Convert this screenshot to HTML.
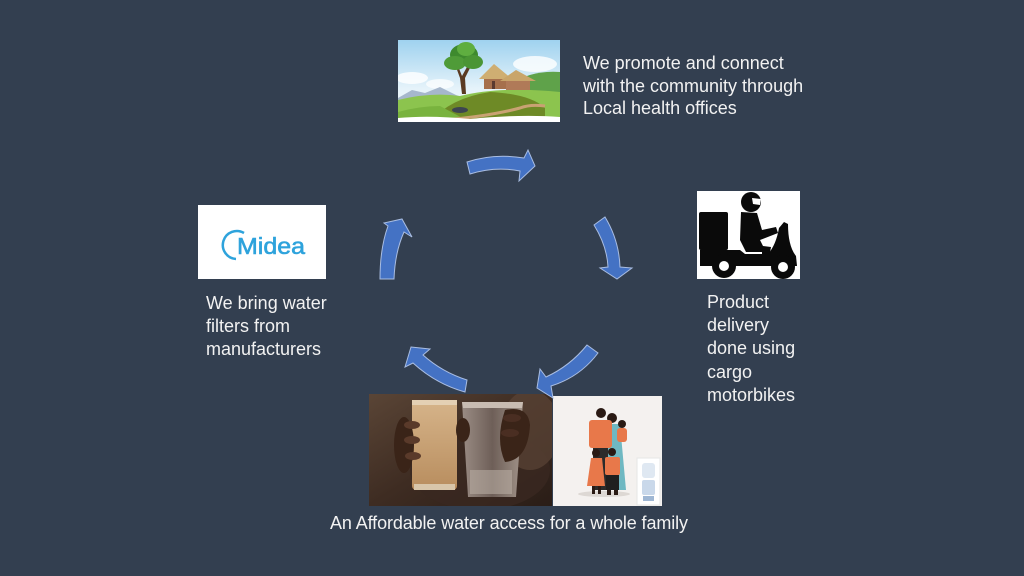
<!DOCTYPE html>
<html><head><meta charset="utf-8"><style>
html,body{margin:0;padding:0;background:#333F50;}
svg{display:block;}
text{font-family:"Liberation Sans",sans-serif;fill:#f2f2f2;font-size:18px;}
</style></head><body>
<svg width="1024" height="576" viewBox="0 0 1024 576" xmlns="http://www.w3.org/2000/svg">
<defs>
<linearGradient id="sky" x1="0" y1="0" x2="0" y2="1">
<stop offset="0" stop-color="#9fd2ef"/><stop offset="0.6" stop-color="#e6f3fa"/><stop offset="1" stop-color="#f4f9f6"/>
</linearGradient>
<linearGradient id="photo" x1="0" y1="0" x2="1" y2="1">
<stop offset="0" stop-color="#5a4536"/><stop offset="0.5" stop-color="#3e2c22"/><stop offset="1" stop-color="#2a1d17"/>
</linearGradient>
<linearGradient id="mud" x1="0" y1="0" x2="0" y2="1">
<stop offset="0" stop-color="#d6b48a"/><stop offset="1" stop-color="#b88d5e"/>
</linearGradient>
<linearGradient id="clear" x1="0" y1="0" x2="1" y2="0">
<stop offset="0" stop-color="#9a8c84"/><stop offset="0.5" stop-color="#6e5f58"/><stop offset="1" stop-color="#a2948a"/>
</linearGradient>
<clipPath id="cv"><rect x="398" y="40" width="162" height="82"/></clipPath>
<clipPath id="cp"><rect x="369" y="394" width="183" height="112"/></clipPath>
</defs>

<rect width="1024" height="576" fill="#333F50"/>

<!-- Village -->
<g clip-path="url(#cv)">
<rect x="398" y="40" width="162" height="82" fill="url(#sky)"/>
<ellipse cx="535" cy="64" rx="22" ry="8" fill="#fff" opacity="0.8"/>
<ellipse cx="412" cy="78" rx="16" ry="6" fill="#fff" opacity="0.8"/>
<ellipse cx="440" cy="84" rx="14" ry="5" fill="#fff" opacity="0.7"/>
<polygon points="398,98 412,90 425,93 440,87 456,95 470,100 398,102" fill="#a6b7cc"/>
<path d="M510,85 Q530,70 560,72 L560,100 L505,100 Z" fill="#5fa24a"/>
<path d="M398,100 Q430,92 460,96 Q500,86 560,92 L560,122 L398,122 Z" fill="#8cc44e"/>
<path d="M430,122 Q450,98 490,92 Q530,94 545,108 L545,122 Z" fill="#6e8a26"/>
<path d="M398,112 Q420,106 440,106 L470,122 L398,122 Z" fill="#79b33e"/>
<path d="M445,120 Q490,116 520,108 Q530,104 545,106" stroke="#c9a273" stroke-width="3" fill="none"/>
<path d="M398,118 Q430,115 470,119 Q520,114 560,117 L560,122 L398,122 Z" fill="#ffffff"/>
<ellipse cx="460" cy="110" rx="8" ry="3" fill="#3d4550"/>
<path d="M462,94 L466,94 L465,78 L470,68 L467,67 L462,76 L458,66 L456,67 L460,78 Z" fill="#5a3a22"/>
<ellipse cx="464" cy="55" rx="14" ry="11" fill="#3e8a2e"/>
<ellipse cx="455" cy="63" rx="11" ry="7" fill="#4f9b38"/>
<ellipse cx="473" cy="62" rx="10" ry="7" fill="#4a9534"/>
<ellipse cx="466" cy="49" rx="9" ry="7" fill="#5fae40"/>
<rect x="484" y="77" width="22" height="12" fill="#a6704c"/>
<polygon points="479,79 494,64 512,79" fill="#cfae72"/>
<rect x="506" y="80" width="24" height="10" fill="#b07a58"/>
<polygon points="500,81 516,70 536,81" fill="#c9a56a"/>
<rect x="492" y="81" width="3" height="8" fill="#5a3a30"/>
</g>

<!-- Midea -->
<rect x="198" y="205" width="128" height="74" fill="#ffffff"/>
<path d="M244,233 A14 14 0 1 0 236,259" stroke="#2ea3dc" stroke-width="2.5" fill="none"/>
<text x="237" y="254" style="font-size:23px;fill:#2ea3dc;stroke:#2ea3dc;stroke-width:0.6" textLength="68" lengthAdjust="spacingAndGlyphs">Midea</text>

<!-- Motorbike -->
<rect x="697" y="191" width="103" height="88" fill="#ffffff"/>
<g fill="#0a0a0a">
<rect x="699" y="212" width="29" height="38" rx="2"/>
<circle cx="751" cy="202" r="10"/>
<path d="M741,212 L757,213 L762,230 L776,227 L778,233 L760,240 L763,246 L771,247 L768,263 L762,263 L762,252 L746,252 L740,240 Z"/>
<path d="M700,250 L740,250 L745,254 L768,254 Q776,245 779,228 L784,222 L788,224 Q788,246 796,256 L797,266 L700,266 Z"/>
<circle cx="724" cy="266" r="12"/>
<circle cx="783" cy="267" r="12"/>
</g>
<path d="M752,198 L761,199 L760,205 L753,204 Z" fill="#ffffff"/>
<circle cx="724" cy="266" r="5" fill="#ffffff"/>
<circle cx="783" cy="267" r="5" fill="#ffffff"/>

<!-- Water photo -->
<g clip-path="url(#cp)">
<rect x="369" y="394" width="183" height="112" fill="url(#photo)"/>
<ellipse cx="480" cy="470" rx="70" ry="40" fill="#3a2820" opacity="0.8"/>
<ellipse cx="530" cy="430" rx="30" ry="40" fill="#5b4436" opacity="0.7"/>
<rect x="412" y="400" width="45" height="90" rx="4" fill="url(#mud)"/>
<rect x="412" y="400" width="45" height="5" fill="#e4d0b4"/>
<rect x="414" y="484" width="41" height="6" fill="#d8c6aa"/>
<polygon points="462,402 523,402 516,497 468,497" fill="url(#clear)"/>
<polygon points="462,402 523,402 522,408 463,408" fill="#c8bcb2"/>
<rect x="470" y="470" width="42" height="24" fill="#b8aca2" opacity="0.6"/>
<ellipse cx="404" cy="445" rx="10" ry="28" fill="#3a2418"/>
<ellipse cx="412" cy="425" rx="8" ry="4" fill="#5a3a2a"/>
<ellipse cx="412" cy="440" rx="8" ry="4" fill="#5a3a2a"/>
<ellipse cx="413" cy="456" rx="8" ry="4" fill="#5a3a2a"/>
<ellipse cx="463" cy="430" rx="7" ry="12" fill="#3a2418"/>
<path d="M505,410 Q528,405 530,425 Q528,460 505,462 Q495,440 505,410 Z" fill="#3a2418"/>
<ellipse cx="512" cy="418" rx="9" ry="4" fill="#4a2e22"/>
<ellipse cx="510" cy="433" rx="9" ry="4" fill="#4a2e22"/>
</g>

<!-- Family -->
<rect x="553" y="396" width="109" height="110" fill="#f4f1ef"/>
<ellipse cx="604" cy="494" rx="26" ry="3" fill="#ddd8d4"/>
<path d="M604,424 L620,424 L626,490 L605,490 Z" fill="#6fb8c2"/>
<circle cx="612" cy="418" r="5" fill="#2a1a14"/>
<circle cx="601" cy="413" r="5" fill="#2a1a14"/>
<rect x="589" y="420" width="23" height="28" rx="3" fill="#e8784a"/>
<rect x="593" y="448" width="15" height="42" fill="#2b2b2b"/>
<circle cx="622" cy="424" r="4" fill="#2a1a14"/>
<rect x="617" y="428" width="10" height="14" rx="3" fill="#e8784a"/>
<circle cx="596" cy="453" r="4" fill="#2a1a14"/>
<polygon points="591,458 602,458 605,486 587,486" fill="#e8784a"/>
<rect x="592" y="486" width="3" height="8" fill="#2a1a14"/>
<rect x="598" y="486" width="3" height="8" fill="#2a1a14"/>
<circle cx="612" cy="452" r="4" fill="#2a1a14"/>
<rect x="605" y="457" width="15" height="18" rx="2" fill="#e8784a"/>
<rect x="606" y="475" width="13" height="15" fill="#1f1f1f"/>
<rect x="607" y="490" width="4" height="5" fill="#2a1a14"/>
<rect x="614" y="490" width="4" height="5" fill="#2a1a14"/>
<rect x="637" y="458" width="23" height="47" fill="#ffffff" stroke="#e6e6e6" stroke-width="1"/>
<rect x="642" y="463" width="13" height="15" rx="3" fill="#dfe8f2"/>
<rect x="642" y="480" width="13" height="15" rx="2" fill="#c9d8ea"/>
<rect x="643" y="496" width="11" height="5" fill="#9fb7d4"/>

<!-- Arrows -->
<g fill="#4472C4" stroke="#a9bde2" stroke-width="1" stroke-linejoin="miter">
<path d="M467,162 Q494,153 524,158 L528,150 L535,166 L519,181 L520,171 Q495,166 470,174 Z"/>
<path d="M594,225 L605,217 Q619,240 620,267 L632,268 L617,279 L600,268 L608,267 Q607,246 594,225 Z"/>
<path d="M587,345 L598,353 Q580,377 551,386 L553,398 L537,388 L540,369 L546,377 Q570,366 587,345 Z"/>
<path d="M411,347 L430,349 L423,355 Q442,372 467,380 L465,392 Q436,384 413,363 L405,367 Z"/>
<path d="M380,279 Q380,248 388,226 L384,223 L402,219 L412,237 L404,232 Q395,252 394,279 Z"/>
</g>

<!-- Text -->
<text x="583" y="69">We promote and connect</text>
<text x="583" y="92">with the community through</text>
<text x="583" y="114">Local health offices</text>

<text x="707" y="308">Product</text>
<text x="707" y="331">delivery</text>
<text x="707" y="354">done using</text>
<text x="707" y="378">cargo</text>
<text x="707" y="401">motorbikes</text>

<text x="206" y="309">We bring water</text>
<text x="206" y="332">filters from</text>
<text x="206" y="355">manufacturers</text>

<text x="330" y="529" textLength="358" lengthAdjust="spacing">An Affordable water access for a whole family</text>
</svg>
</body></html>
